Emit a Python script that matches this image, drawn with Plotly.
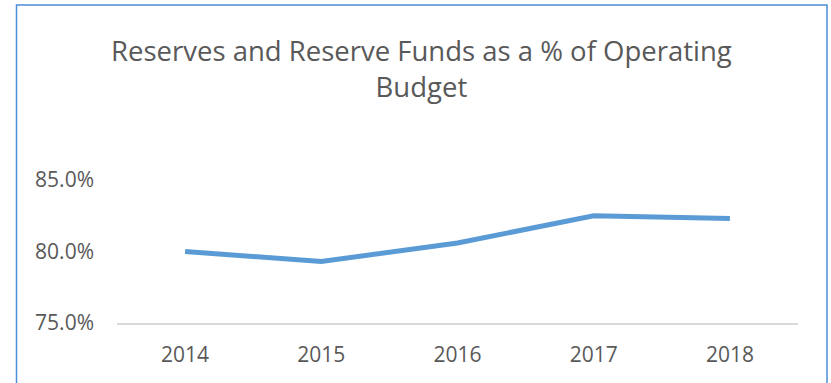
import plotly.graph_objects as go

years = ["2014", "2015", "2016", "2017", "2018"]
values = [0.800, 0.793, 0.806, 0.825, 0.823]
title_text = "Reserves and Reserve Funds as a % of Operating<br>Budget"
y_ticks = [0.75, 0.80, 0.85]

GRAY = "#595959"
FONT = "Open Sans"

fig = go.Figure()
fig.add_trace(go.Scatter(
    x=years, y=values, mode="lines",
    line=dict(color="#5B9BD5", width=5, shape="linear"),
    hoverinfo="skip",
))

# plot area in pixels: left 117, right 798, top 180, bottom 323
L, R, T, B = 117, 33, 180, 60
W, H = 831, 383
pw = W - L - R
ph = H - T - B

def px_to_paper_x(px):
    return (px - L) / pw

def py_to_paper_y(py):
    return (H - B - py) / ph

fig.update_layout(
    width=W, height=H,
    margin=dict(l=L, r=R, t=T, b=B),
    paper_bgcolor="white", plot_bgcolor="white",
    showlegend=False,
    annotations=[dict(
        text=title_text, showarrow=False,
        xref="paper", yref="paper",
        x=px_to_paper_x(421), xanchor="center",
        y=py_to_paper_y(68), yanchor="middle",
        font=dict(family=FONT, size=27.5, color=GRAY),
        align="center",
    )],
    xaxis=dict(
        type="category", range=[-0.5, 4.5],
        showline=True, linecolor="#D9D9D9", linewidth=2,
        showgrid=False, zeroline=False,
        ticks="", ticklabelstandoff=12,
        tickfont=dict(family=FONT, size=21, color=GRAY),
    ),
    yaxis=dict(
        range=[0.75, 0.85], tickvals=y_ticks, tickformat=".1%",
        showline=False, showgrid=False, zeroline=False,
        ticks="", ticklabelstandoff=22,
        tickfont=dict(family=FONT, size=21, color=GRAY),
    ),
    shapes=[dict(
        type="rect", xref="paper", yref="paper",
        x0=px_to_paper_x(16.5), x1=px_to_paper_x(827),
        y0=py_to_paper_y(420), y1=py_to_paper_y(5),
        line=dict(color="#4A8FD6", width=1.5), fillcolor="rgba(0,0,0,0)",
        layer="below",
    )],
)

fig.write_html("out.html")
